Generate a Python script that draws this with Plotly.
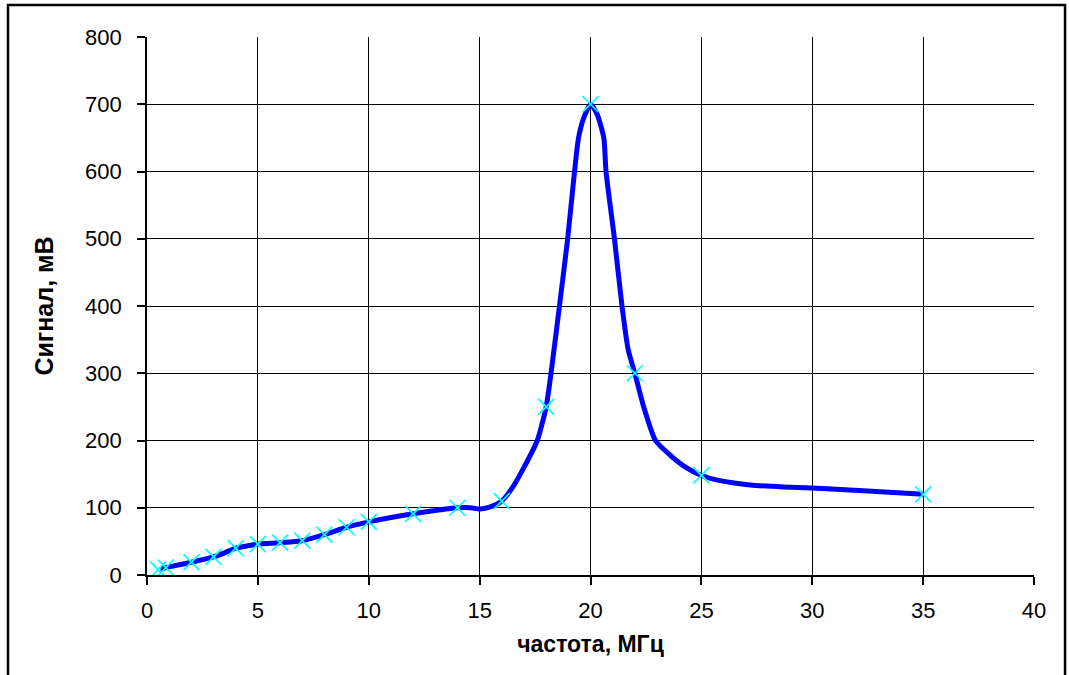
import plotly.graph_objects as go

# Measured points (markers)
freq_pts = [0.5, 0.85, 2, 3, 4, 5, 6, 7, 8, 9, 10, 12, 14, 16, 18, 20, 22, 25, 35]
signal_pts = [8, 11, 19, 27, 40, 46, 48, 51, 60, 71, 79, 91, 100, 110, 250, 700, 300, 148, 120]

# Smoothed response curve
freq_curve = [0.6, 1, 2, 3, 3.5, 4, 4.5, 5, 6, 7, 8, 9, 10, 12, 14, 14.6, 15, 15.45,
              16, 16.5, 17, 17.6, 18, 18.22, 18.6, 18.97, 19.28, 19.46, 19.7, 20,
              20.3, 20.6, 20.7, 21.08, 21.42, 21.7, 22, 22.4, 22.93, 23.6, 24.3, 25,
              25.9, 27.2, 28.7, 30, 32.5, 35]
signal_curve = [9, 12, 19, 27, 33, 40, 43, 46, 48, 51, 60, 71, 79, 91, 100, 100, 98, 101,
                110, 131, 160, 200, 250, 300, 400, 500, 600, 650, 680, 700,
                685, 650, 600, 500, 400, 335, 300, 250, 200, 178, 160, 148,
                140, 134, 131, 129.5, 125, 120]

x_ticks = list(range(0, 41, 5))
y_ticks = list(range(0, 801, 100))

FONT = "Liberation Sans, Arial"

fig = go.Figure()
fig.add_trace(go.Scatter(
    x=freq_curve, y=signal_curve, mode="lines",
    line=dict(color="#0000FF", width=5, shape="spline", smoothing=0.6),
    hoverinfo="skip", showlegend=False,
))
fig.add_trace(go.Scatter(
    x=freq_pts, y=signal_pts, mode="markers",
    marker=dict(symbol="x-thin", size=16, line=dict(color="#00FFFF", width=1.7)),
    showlegend=False,
))

axis_common = dict(
    showgrid=True, gridcolor="#000000", gridwidth=1.4,
    showline=True, linecolor="#000000", linewidth=1.6,
    ticks="outside", ticklen=8, tickcolor="#000000", tickwidth=1.5,
    zeroline=False,
    tickfont=dict(family=FONT, size=22, color="#000000"),
)

fig.update_xaxes(
    range=[0, 40], tickvals=x_ticks, ticklabelstandoff=7,
    title=dict(text="<b>частота, МГц</b>", standoff=14,
               font=dict(family=FONT, size=23, color="#000000")),
    **axis_common,
)
fig.update_yaxes(
    range=[0, 800], tickvals=y_ticks, ticklabelstandoff=11,
    title=dict(text="<b>Сигнал, мВ</b>", standoff=24,
               font=dict(family=FONT, size=25, color="#000000")),
    **axis_common,
)

fig.update_layout(
    width=1069, height=675,
    margin=dict(l=147, r=35, t=37, b=100),
    paper_bgcolor="#FFFFFF", plot_bgcolor="#FFFFFF",
    shapes=[dict(
        type="rect", xref="paper", yref="paper",
        x0=-0.1567, x1=1.035, y0=-0.19, y1=1.0595,
        line=dict(color="#000000", width=2.5), layer="below",
    )],
)

fig.write_html("out.html")
